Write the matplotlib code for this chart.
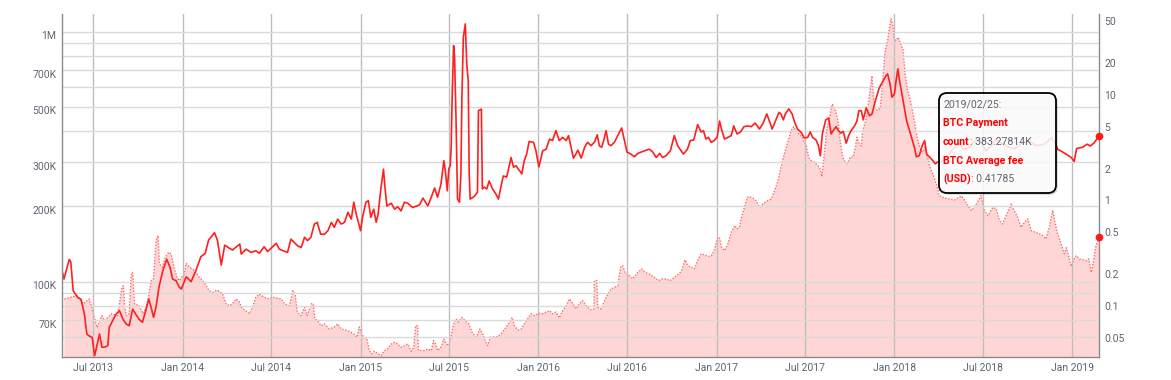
import numpy as np
import pandas as pd
import matplotlib
matplotlib.use("Agg")
import matplotlib.pyplot as plt
import matplotlib.dates as mdates
import matplotlib.transforms as mtransforms
from matplotlib.patches import FancyBboxPatch
from matplotlib.ticker import FixedLocator, FuncFormatter, NullFormatter, NullLocator

plt.rcParams['font.family'] = ['Roboto', 'DejaVu Sans']

# BTC payment count (thousands), left axis
pay_dates = [
    "2013-04-28", "2013-05-02", "2013-05-13", "2013-05-16", "2013-05-21", "2013-05-30",
    "2013-06-06", "2013-06-13", "2013-06-18", "2013-06-22", "2013-06-29", "2013-07-04",
    "2013-07-08", "2013-07-14", "2013-07-19", "2013-07-24", "2013-07-31", "2013-08-03",
    "2013-08-10", "2013-08-17", "2013-08-24", "2013-08-31", "2013-09-07", "2013-09-13",
    "2013-09-20", "2013-09-26", "2013-10-03", "2013-10-10", "2013-10-16", "2013-10-23",
    "2013-10-28", "2013-11-02", "2013-11-07", "2013-11-13", "2013-11-21", "2013-11-29",
    "2013-12-06", "2013-12-11", "2013-12-18", "2013-12-25", "2013-12-29", "2014-01-08",
    "2014-01-18", "2014-01-28", "2014-02-07", "2014-02-16", "2014-02-23", "2014-03-07",
    "2014-03-13", "2014-03-21", "2014-03-28", "2014-04-07", "2014-04-13", "2014-04-28",
    "2014-05-01", "2014-05-11", "2014-05-21", "2014-05-31", "2014-06-07", "2014-06-17",
    "2014-06-24", "2014-07-12", "2014-07-18", "2014-08-04", "2014-08-11", "2014-08-25",
    "2014-09-01", "2014-09-08", "2014-09-14", "2014-09-21", "2014-09-28", "2014-10-04",
    "2014-10-11", "2014-10-19", "2014-10-26", "2014-11-02", "2014-11-08", "2014-11-15",
    "2014-11-22", "2014-11-29", "2014-12-06", "2014-12-13", "2014-12-18", "2014-12-23",
    "2015-01-01", "2015-01-05", "2015-01-12", "2015-01-17", "2015-01-22", "2015-01-28",
    "2015-02-02", "2015-02-06", "2015-02-12", "2015-02-17", "2015-02-20", "2015-02-24",
    "2015-03-05", "2015-03-12", "2015-03-18", "2015-03-25", "2015-04-01", "2015-04-08",
    "2015-04-18", "2015-05-02", "2015-05-09", "2015-05-19", "2015-05-26", "2015-06-02",
    "2015-06-08", "2015-06-15", "2015-06-21", "2015-06-24", "2015-06-28", "2015-07-01",
    "2015-07-04", "2015-07-06", "2015-07-08", "2015-07-11", "2015-07-13", "2015-07-16",
    "2015-07-19", "2015-07-23", "2015-07-26", "2015-07-28", "2015-07-31", "2015-08-04",
    "2015-08-07", "2015-08-10", "2015-08-12", "2015-08-14", "2015-08-22", "2015-08-29",
    "2015-08-31", "2015-09-06", "2015-09-08", "2015-09-12", "2015-09-17", "2015-09-22",
    "2015-09-29", "2015-10-06", "2015-10-11", "2015-10-16", "2015-10-21", "2015-10-28",
    "2015-11-06", "2015-11-11", "2015-11-16", "2015-11-28", "2015-12-03", "2015-12-08",
    "2015-12-13", "2015-12-22", "2015-12-27", "2016-01-02", "2016-01-10", "2016-01-17",
    "2016-01-24", "2016-01-30", "2016-02-06", "2016-02-13", "2016-02-20", "2016-02-27",
    "2016-03-03", "2016-03-13", "2016-03-18", "2016-03-22", "2016-03-29", "2016-04-05",
    "2016-04-11", "2016-04-18", "2016-04-25", "2016-05-01", "2016-05-05", "2016-05-10",
    "2016-05-14", "2016-05-19", "2016-05-24", "2016-05-29", "2016-06-05", "2016-06-12",
    "2016-06-20", "2016-06-25", "2016-07-01", "2016-07-09", "2016-07-16", "2016-07-23",
    "2016-08-06", "2016-08-16", "2016-08-23", "2016-08-30", "2016-09-06", "2016-09-12",
    "2016-09-19", "2016-09-28", "2016-10-06", "2016-10-13", "2016-10-20", "2016-10-25",
    "2016-11-02", "2016-11-08", "2016-11-15", "2016-11-23", "2016-11-30", "2016-12-05",
    "2016-12-10", "2016-12-15", "2016-12-21", "2016-12-27", "2017-01-02", "2017-01-07",
    "2017-01-11", "2017-01-17", "2017-01-24", "2017-01-31", "2017-02-05", "2017-02-12",
    "2017-02-19", "2017-02-26", "2017-03-06", "2017-03-13", "2017-03-21", "2017-03-30",
    "2017-04-06", "2017-04-14", "2017-04-19", "2017-04-25", "2017-05-02", "2017-05-09",
    "2017-05-13", "2017-05-18", "2017-05-22", "2017-05-29", "2017-06-05", "2017-06-10",
    "2017-06-16", "2017-06-23", "2017-06-30", "2017-07-07", "2017-07-12", "2017-07-17",
    "2017-07-24", "2017-07-29", "2017-08-02", "2017-08-06", "2017-08-13", "2017-08-19",
    "2017-08-24", "2017-08-29", "2017-09-03", "2017-09-08", "2017-09-13", "2017-09-18",
    "2017-09-24", "2017-09-29", "2017-10-04", "2017-10-11", "2017-10-16", "2017-10-20",
    "2017-10-25", "2017-10-29", "2017-11-04", "2017-11-11", "2017-11-16", "2017-11-21",
    "2017-11-26", "2017-11-30", "2017-12-05", "2017-12-09", "2017-12-15", "2017-12-18",
    "2017-12-23", "2017-12-27", "2018-01-01", "2018-01-04", "2018-01-08", "2018-01-11",
    "2018-01-17", "2018-01-21", "2018-01-26", "2018-02-01", "2018-02-06", "2018-02-11",
    "2018-02-15", "2018-02-21", "2018-02-27", "2018-03-04", "2018-03-08", "2018-03-15",
    "2018-03-21", "2018-03-26", "2018-03-31", "2018-04-05", "2018-04-13", "2018-04-18",
    "2018-04-24", "2018-05-03", "2018-05-14", "2018-05-24", "2018-06-04", "2018-06-12",
    "2018-06-24", "2018-07-08", "2018-07-18", "2018-07-29", "2018-08-08", "2018-08-25",
    "2018-09-05", "2018-09-21", "2018-10-05", "2018-10-19", "2018-11-05", "2018-11-19",
    "2018-11-26", "2018-12-02", "2018-12-16", "2018-12-30", "2019-01-05", "2019-01-10",
    "2019-01-22", "2019-02-01", "2019-02-07", "2019-02-15", "2019-02-25",
]
pay_k = [
    111, 102.5, 122.9, 120, 92, 86.6,
    85, 74.3, 61.8, 60.8, 59.9, 50.6,
    54.7, 61.8, 54.7, 54.7, 55.5, 65.7,
    69.8, 74.2, 76.6, 70.9, 67.7, 66.7,
    77.7, 74.3, 70.9, 68.8, 75.4, 85.3,
    79, 72, 79, 95, 110.7, 123,
    114, 102.5, 101, 95, 93.5, 104.7,
    100, 111, 125.9, 129.9, 146.8, 157,
    146.8, 116.6, 140, 136, 133.9, 141.5,
    129, 135, 131, 133, 130, 138,
    132, 142.5, 135, 131, 148, 139,
    137, 150.6, 146, 150.6, 170, 172.8,
    155, 155, 160, 172.8, 165, 178,
    170, 172.8, 189.5, 178, 208, 186.5,
    160, 181, 208, 211, 181, 195,
    172.8, 186.5, 238.7, 282, 238.7, 201,
    206, 195, 199.5, 192, 208, 206,
    198, 203, 216, 201, 217.6, 237,
    217.6, 245.7, 305, 278, 231, 282,
    291, 345, 547, 880, 792, 441,
    214, 208, 270, 547, 950, 1074,
    742, 636, 270, 214, 219, 228,
    483, 490, 235, 239, 235, 253,
    235, 224, 214, 239, 265, 262,
    314, 287, 291, 270, 305, 324,
    364, 361, 334, 288, 334, 339,
    372, 367, 402, 367, 378, 367,
    384, 312, 324, 336, 312, 345,
    361, 350, 361, 387, 350, 345,
    367, 402, 355, 350, 361, 384,
    412, 372, 330, 324, 316, 326,
    334, 339, 330, 314, 326, 314,
    319, 334, 384, 350, 334, 324,
    339, 367, 369, 425, 397, 402,
    372, 378, 361, 367, 378, 439,
    408, 372, 378, 384, 420, 390,
    397, 417, 420, 417, 431, 408,
    429, 469, 441, 408, 441, 476,
    469, 444, 469, 491, 469, 435,
    408, 397, 376, 378, 397, 378,
    369, 350, 319, 390, 444, 452,
    390, 404, 417, 402, 393, 399,
    358, 384, 402, 420, 439, 483,
    483, 444, 496, 461, 469, 513,
    555, 590, 617, 636, 668, 678,
    617, 547, 563, 627, 710, 647,
    555, 499, 441, 402, 372, 345,
    316, 319, 350, 367, 324, 314,
    305, 296, 302, 300, 307, 318,
    324, 345, 355, 340, 345, 362,
    372, 334, 350, 372, 360, 345,
    340, 361, 365, 350, 355, 376,
    362, 339, 327, 314, 303, 341,
    345, 355, 349, 359, 383.27814,
]

# BTC average fee (USD), right axis
fee_dates = [
    "2013-05-03", "2013-05-16", "2013-05-30", "2013-06-11", "2013-06-23", "2013-06-28",
    "2013-07-09", "2013-07-14", "2013-07-19", "2013-07-24", "2013-07-31", "2013-08-07",
    "2013-08-20", "2013-08-25", "2013-08-29", "2013-09-01", "2013-09-04", "2013-09-07",
    "2013-09-13", "2013-09-17", "2013-09-20", "2013-09-24", "2013-10-04", "2013-10-11",
    "2013-10-18", "2013-10-23", "2013-10-28", "2013-11-02", "2013-11-07", "2013-11-11",
    "2013-11-14", "2013-11-20", "2013-11-26", "2013-12-03", "2013-12-08", "2013-12-15",
    "2013-12-20", "2013-12-25", "2014-01-04", "2014-01-08", "2014-01-15", "2014-01-21",
    "2014-01-28", "2014-02-04", "2014-02-11", "2014-02-18", "2014-02-24", "2014-03-04",
    "2014-03-11", "2014-03-17", "2014-03-24", "2014-03-31", "2014-04-07", "2014-04-13",
    "2014-04-21", "2014-04-28", "2014-05-01", "2014-05-18", "2014-05-25", "2014-05-31",
    "2014-06-07", "2014-06-17", "2014-06-28", "2014-07-05", "2014-07-22", "2014-07-29",
    "2014-08-08", "2014-08-15", "2014-08-20", "2014-08-24", "2014-08-31", "2014-09-08",
    "2014-09-13", "2014-09-22", "2014-09-26", "2014-09-29", "2014-10-05", "2014-10-12",
    "2014-10-19", "2014-10-29", "2014-11-08", "2014-11-15", "2014-11-22", "2014-12-06",
    "2014-12-19", "2014-12-25", "2014-12-29", "2015-01-05", "2015-01-14", "2015-01-19",
    "2015-01-24", "2015-01-29", "2015-02-12", "2015-02-19", "2015-02-25", "2015-03-05",
    "2015-03-12", "2015-03-18", "2015-03-25", "2015-04-01", "2015-04-08", "2015-04-15",
    "2015-04-20", "2015-04-24", "2015-04-28", "2015-04-30", "2015-05-12", "2015-05-19",
    "2015-05-26", "2015-05-31", "2015-06-04", "2015-06-08", "2015-06-15", "2015-06-21",
    "2015-06-26", "2015-07-01", "2015-07-06", "2015-07-11", "2015-07-16", "2015-07-21",
    "2015-07-28", "2015-08-04", "2015-08-11", "2015-08-18", "2015-08-26", "2015-09-03",
    "2015-09-09", "2015-09-14", "2015-09-19", "2015-09-24", "2015-10-08", "2015-10-16",
    "2015-10-27", "2015-11-03", "2015-11-08", "2015-11-13", "2015-11-20", "2015-11-27",
    "2015-12-03", "2015-12-10", "2015-12-17", "2015-12-24", "2016-01-02", "2016-01-10",
    "2016-01-17", "2016-01-24", "2016-01-30", "2016-02-06", "2016-02-13", "2016-02-20",
    "2016-02-27", "2016-03-05", "2016-03-12", "2016-03-18", "2016-03-25", "2016-04-01",
    "2016-04-08", "2016-04-15", "2016-04-20", "2016-04-24", "2016-04-25", "2016-04-30",
    "2016-05-02", "2016-05-09", "2016-05-16", "2016-05-23", "2016-05-29", "2016-06-12",
    "2016-06-18", "2016-06-22", "2016-06-27", "2016-07-06", "2016-07-13", "2016-07-20",
    "2016-07-27", "2016-07-31", "2016-08-07", "2016-08-16", "2016-08-26", "2016-09-04",
    "2016-09-10", "2016-09-19", "2016-09-28", "2016-10-06", "2016-10-15", "2016-10-21",
    "2016-10-28", "2016-11-03", "2016-11-10", "2016-11-16", "2016-11-23", "2016-11-30",
    "2016-12-07", "2016-12-14", "2016-12-21", "2016-12-27", "2017-01-03", "2017-01-07",
    "2017-01-11", "2017-01-17", "2017-01-24", "2017-01-31", "2017-02-07", "2017-02-12",
    "2017-02-17", "2017-02-21", "2017-02-27", "2017-03-05", "2017-03-09", "2017-03-16",
    "2017-03-23", "2017-03-30", "2017-04-06", "2017-04-13", "2017-04-23", "2017-04-30",
    "2017-05-07", "2017-05-13", "2017-05-20", "2017-05-27", "2017-06-03", "2017-06-08",
    "2017-06-13", "2017-06-19", "2017-06-26", "2017-06-30", "2017-07-04", "2017-07-09",
    "2017-07-14", "2017-07-21", "2017-07-28", "2017-08-01", "2017-08-05", "2017-08-10",
    "2017-08-15", "2017-08-21", "2017-08-24", "2017-08-27", "2017-09-02", "2017-09-07",
    "2017-09-12", "2017-09-17", "2017-09-22", "2017-09-27", "2017-10-02", "2017-10-08",
    "2017-10-13", "2017-10-16", "2017-10-21", "2017-10-25", "2017-10-28", "2017-11-03",
    "2017-11-07", "2017-11-12", "2017-11-16", "2017-11-19", "2017-11-23", "2017-11-28",
    "2017-12-03", "2017-12-08", "2017-12-13", "2017-12-18", "2017-12-22", "2017-12-25",
    "2017-12-28", "2018-01-01", "2018-01-04", "2018-01-09", "2018-01-14", "2018-01-19",
    "2018-01-23", "2018-01-28", "2018-02-02", "2018-02-07", "2018-02-13", "2018-02-18",
    "2018-02-22", "2018-02-28", "2018-03-06", "2018-03-10", "2018-03-15", "2018-03-21",
    "2018-03-28", "2018-04-03", "2018-04-13", "2018-05-04", "2018-05-19", "2018-05-31",
    "2018-06-08", "2018-06-18", "2018-06-28", "2018-07-05", "2018-07-12", "2018-07-22",
    "2018-07-29", "2018-08-05", "2018-08-11", "2018-08-20", "2018-08-29", "2018-09-04",
    "2018-09-11", "2018-09-18", "2018-09-25", "2018-10-02", "2018-10-09", "2018-10-17",
    "2018-10-26", "2018-11-01", "2018-11-08", "2018-11-15", "2018-11-22", "2018-11-27",
    "2018-12-02", "2018-12-09", "2018-12-16", "2018-12-20", "2018-12-30", "2019-01-05",
    "2019-01-09", "2019-01-16", "2019-01-23", "2019-01-30", "2019-02-04", "2019-02-09",
    "2019-02-14", "2019-02-18", "2019-02-25",
]
fee_usd = [
    0.108, 0.112, 0.116, 0.097, 0.108, 0.090,
    0.058, 0.067, 0.075, 0.067, 0.072, 0.078,
    0.075, 0.104, 0.139, 0.144, 0.090, 0.075,
    0.078, 0.180, 0.193, 0.097, 0.093, 0.078,
    0.090, 0.116, 0.161, 0.167, 0.385, 0.430,
    0.232, 0.216, 0.268, 0.299, 0.288, 0.208,
    0.173, 0.161, 0.186, 0.235, 0.216, 0.208,
    0.193, 0.173, 0.161, 0.144, 0.129, 0.125,
    0.131, 0.128, 0.120, 0.097, 0.093, 0.097,
    0.108, 0.100, 0.090, 0.078, 0.093, 0.112,
    0.120, 0.112, 0.108, 0.112, 0.108, 0.097,
    0.093, 0.129, 0.116, 0.081, 0.075, 0.090,
    0.075, 0.097, 0.097, 0.070, 0.067, 0.060,
    0.0625, 0.056, 0.0585, 0.0625, 0.056, 0.054,
    0.050, 0.0468, 0.0585, 0.0485, 0.045, 0.035,
    0.0325, 0.0345, 0.0313, 0.035, 0.0362, 0.0404,
    0.042, 0.0404, 0.0376, 0.039, 0.0404, 0.0345,
    0.0376, 0.060, 0.060, 0.035, 0.035, 0.0362,
    0.035, 0.0434, 0.0404, 0.035, 0.0376, 0.045,
    0.0404, 0.039, 0.0485, 0.0625, 0.070, 0.065,
    0.072, 0.067, 0.0625, 0.052, 0.0468, 0.056,
    0.050, 0.0434, 0.039, 0.0468, 0.0475, 0.050,
    0.0585, 0.065, 0.072, 0.060, 0.0548, 0.056,
    0.0625, 0.070, 0.078, 0.075, 0.079, 0.078,
    0.081, 0.0836, 0.078, 0.081, 0.0713, 0.0836,
    0.093, 0.108, 0.097, 0.0867, 0.097, 0.104,
    0.093, 0.0867, 0.085, 0.0867, 0.161, 0.161,
    0.090, 0.0867, 0.104, 0.120, 0.134, 0.144,
    0.216, 0.223, 0.193, 0.180, 0.167, 0.186,
    0.200, 0.208, 0.193, 0.186, 0.173, 0.161,
    0.167, 0.167, 0.161, 0.173, 0.186, 0.200,
    0.253, 0.223, 0.216, 0.208, 0.249, 0.288,
    0.284, 0.272, 0.277, 0.310, 0.415, 0.409,
    0.334, 0.310, 0.359, 0.463, 0.535, 0.497,
    0.516, 0.642, 0.798, 0.993, 1.007, 0.978,
    0.923, 0.798, 0.859, 0.910, 0.957, 1.148,
    1.428, 1.91, 2.56, 3.30, 4.25, 4.64,
    4.25, 3.96, 3.68, 3.30, 3.06, 2.38,
    2.21, 2.13, 1.98, 1.88, 1.56, 2.56,
    4.41, 5.69, 6.82, 7.61, 6.58, 5.29,
    3.30, 2.38, 2.13, 2.09, 2.38, 2.38,
    2.96, 3.68, 3.18, 3.06, 4.25, 5.29,
    6.58, 10.2, 14.1, 8.81, 6.82, 6.58,
    7.08, 12.65, 24.4, 30.3, 40.6, 48.7,
    43.6, 31.4, 30.3, 32.6, 28.2, 24.4,
    14.6, 10.2, 8.49, 6.58, 4.58, 3.42,
    2.96, 2.65, 3.06, 2.38, 1.91, 1.65,
    1.33, 1.03, 0.978, 0.937, 1.02, 0.84,
    0.741, 0.859, 1.03, 0.741, 0.665, 0.798,
    0.770, 0.596, 0.555, 0.690, 0.859, 0.741,
    0.642, 0.516, 0.576, 0.619, 0.480, 0.463,
    0.446, 0.430, 0.400, 0.516, 0.750, 0.560,
    0.450, 0.360, 0.290, 0.330, 0.220, 0.260,
    0.278, 0.258, 0.254, 0.249, 0.258, 0.193,
    0.249, 0.334, 0.41785,
]

tip_date = "2019/02/25:"
tip_pay = "383.27814K"
tip_fee = "0.41785"

left_ticks = [70, 100, 200, 300, 500, 700, 1000]
left_minor = [60, 80, 90, 400, 600, 800, 900]
right_ticks = [0.05, 0.1, 0.2, 0.5, 1, 2, 5, 10, 20, 50]

pay_x = pd.to_datetime(pay_dates)
fee_x = pd.to_datetime(fee_dates)

W, H = 1171, 380
fig = plt.figure(figsize=(W / 100, H / 100), dpi=100)
ax = fig.add_axes([62 / W, 1 - 357 / H, (1099 - 62) / W, (357 - 14) / H])
ax2 = ax.twinx()
ax.set_zorder(ax2.get_zorder() + 1)
ax.patch.set_visible(False)

# fee: dotted line with pink area
ax2.fill_between(fee_x, fee_usd, 1e-4, color='#ffd6d6', lw=0)
ax2.plot(fee_x, fee_usd, color='#ff6a6a', lw=1.0, ls=(0, (1, 1.2)))
ax2.plot(fee_x[-1:], fee_usd[-1:], 'o', color='#ff1a1a', ms=4.5, clip_on=False, zorder=5)
ax2.set_yscale('log')
ax2.set_ylim(0.0304, 54.3)

# payment count
ax.plot(pay_x, pay_k, color='#ff1f1f', lw=1.2)
ax.plot(pay_x[-1:], pay_k[-1:], 'o', color='#ff1a1a', ms=4.5, clip_on=False, zorder=5)
ax.set_yscale('log')
ax.set_ylim(50, 1177)
ax.set_xlim(pd.Timestamp("2013-04-28"), pd.Timestamp("2019-02-25"))

ax.yaxis.set_major_locator(FixedLocator(left_ticks))
ax.yaxis.set_major_formatter(FuncFormatter(lambda v, p: "1M" if v >= 1000 else f"{int(round(v))}K"))
ax.yaxis.set_minor_locator(FixedLocator(left_minor))
ax.yaxis.set_minor_formatter(NullFormatter())
ax.grid(True, which='both', axis='y', color='#dadada', lw=1)

ax.xaxis.set_major_locator(mdates.MonthLocator(bymonth=[1, 7]))
ax.xaxis.set_major_formatter(mdates.DateFormatter('%b %Y'))
ax.grid(True, which='major', axis='x', color='#bdbdbd', lw=1)

ax2.yaxis.set_major_locator(FixedLocator(right_ticks))
ax2.yaxis.set_major_formatter(FuncFormatter(lambda v, p: f"{v:g}"))
ax2.yaxis.set_minor_locator(NullLocator())

ax.tick_params(axis='both', which='both', length=0, labelsize=7.5, colors='#5f6470')
ax.tick_params(axis='y', pad=4)
ax.tick_params(axis='x', pad=4)
ax2.tick_params(axis='y', which='both', length=0, labelsize=7.5, colors='#5f6470', pad=4)

for s in ['top', 'right']:
    ax.spines[s].set_visible(False)
for s in ['top', 'left', 'bottom']:
    ax2.spines[s].set_visible(False)
for s in [ax.spines['left'], ax.spines['bottom'], ax2.spines['right']]:
    s.set_color('#8a8a8a')
    s.set_linewidth(1)

# tooltip
ident = mtransforms.IdentityTransform()
bx0, by0, bx1, by1 = 939, H - 193, 1056, H - 93
shadow = FancyBboxPatch((bx0 + 2, by0 - 2), bx1 - bx0, by1 - by0,
                        boxstyle="round,pad=0,rounding_size=8",
                        fc=(0, 0, 0, 0.12), ec='none', transform=ident, zorder=9)
box = FancyBboxPatch((bx0, by0), bx1 - bx0, by1 - by0,
                     boxstyle="round,pad=0,rounding_size=8",
                     fc=(1, 1, 1, 0.85), ec='black', lw=1.3, transform=ident, zorder=10)
fig.add_artist(shadow)
fig.add_artist(box)

renderer = fig.canvas.get_renderer()
tx = 943
lines = [
    [(tip_date, '#5f6470', 'normal')],
    [("BTC Payment", '#ff0000', 'bold')],
    [("count", '#ff0000', 'bold'), (": " + tip_pay, '#5f6470', 'normal')],
    [("BTC Average fee", '#ff0000', 'bold')],
    [("(USD)", '#ff0000', 'bold'), (": " + tip_fee, '#5f6470', 'normal')],
]
for i, parts in enumerate(lines):
    x = tx
    y = H - (104.5 + 18.7 * i)
    for txt, col, wt in parts:
        t = fig.text(x, y, txt, transform=ident, color=col, fontweight=wt,
                     fontsize=7.6, va='center', ha='left', zorder=11)
        x = t.get_window_extent(renderer=renderer).x1

# nudge y labels slightly below their gridlines
fig.canvas.draw()
off = mtransforms.ScaledTranslation(0, -2.5 / 72, fig.dpi_scale_trans)
for lab in ax.get_yticklabels() + ax2.get_yticklabels():
    lab.set_transform(lab.get_transform() + off)

fig.savefig("out.png", dpi=100)
